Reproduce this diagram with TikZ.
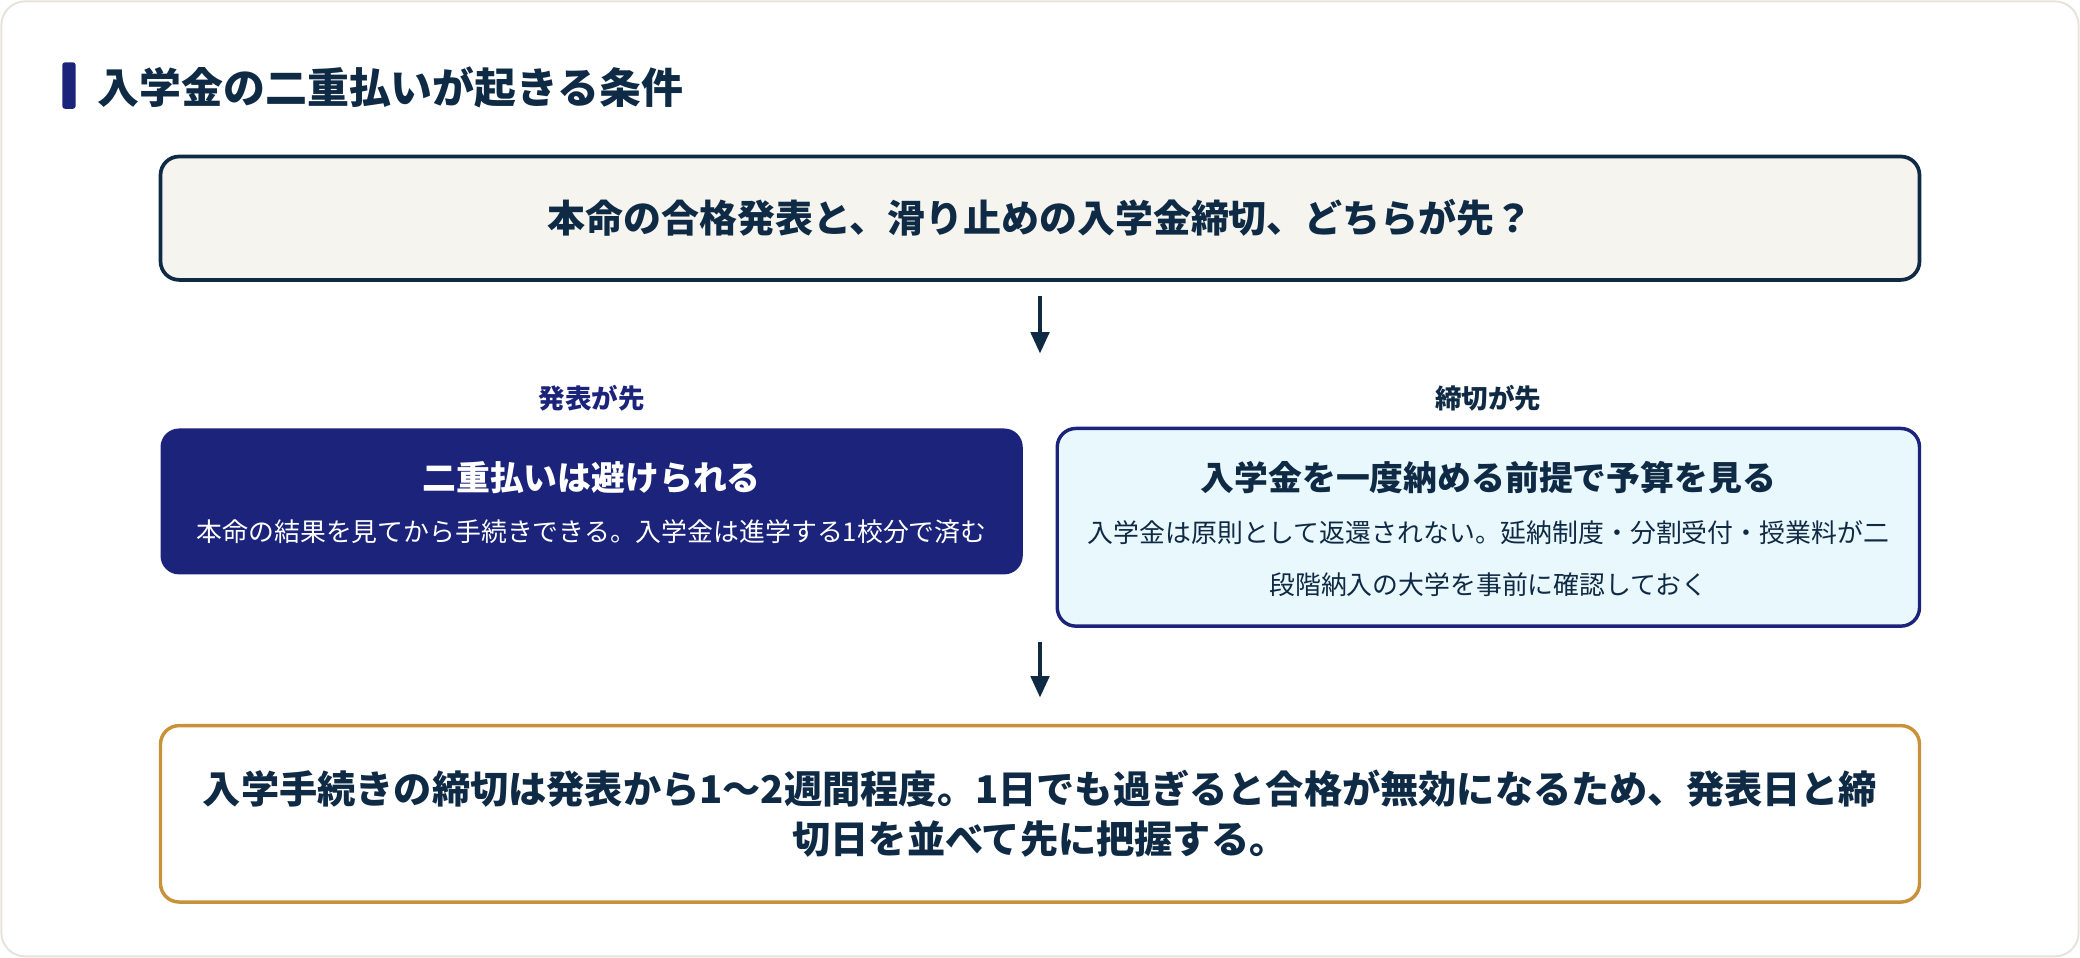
\documentclass[tikz,border=0pt]{standalone}
\usepackage{fontspec}
\setmainfont{Noto Sans CJK JP}
\usetikzlibrary{arrows.meta}
\definecolor{navy}{HTML}{1B237B}
\definecolor{ink}{HTML}{0F2A44}
\definecolor{paper}{HTML}{F5F4EF}
\definecolor{ice}{HTML}{E9F8FD}
\definecolor{gold}{HTML}{C8923A}
\definecolor{framegray}{HTML}{E6E4DA}
\tikzset{
  card/.style={rounded corners=14pt, align=center, inner sep=0pt},
  qbox/.style={card, draw=ink, line width=2.8pt, fill=paper, text=ink,
    minimum width=1326pt, minimum height=93pt, font=\fontsize{28.6}{34}\selectfont\bfseries},
  earlybox/.style={card, fill=navy, text=white,
    minimum width=650pt, minimum height=110pt},
  latebox/.style={card, draw=navy, line width=2.6pt, fill=ice, text=ink,
    minimum width=650pt, minimum height=149pt},
  notebox/.style={card, draw=gold, line width=2.6pt, fill=white, text=ink,
    minimum width=1326pt, minimum height=133pt, font=\fontsize{28.8}{38}\selectfont\bfseries},
  branch/.style={font=\fontsize{20}{24}\selectfont\bfseries},
  headtxt/.style={font=\fontsize{25.5}{30}\selectfont\bfseries},
  bodytxt/.style={font=\fontsize{19.5}{39}\selectfont},
  flow/.style={ink, line width=2.4pt, -{Triangle[length=16pt,width=14pt]}}
}
\begin{document}
\begin{tikzpicture}[x=1pt,y=-1pt]
\useasboundingbox (0,0) rectangle (1568,722);
\draw[framegray, line width=1.5pt, rounded corners=18pt] (1,1) rectangle (1567,721);
% heading
\fill[navy, rounded corners=2pt] (47,47) rectangle (57,82);
\node[anchor=west, text=ink, font=\fontsize{31.6}{36}\selectfont\bfseries] (title) at (70,66) {入学金の二重払いが起きる条件};
% question
\node[qbox] (question) at (784,164.5) {本命の合格発表と、滑り止めの入学金締切、どちらが先？};
\draw[flow] ([yshift=-11pt]question.south) -- ([yshift=-54pt]question.south);
% two branches
\node[branch, text=navy] (earlylbl) at (446,300) {発表が先};
\node[branch, text=ink] (latelbl) at (1122,300) {締切が先};
\node[earlybox] (early) at (446,378) {};
\node[headtxt, text=white] (earlyhead) at (446,360) {二重払いは避けられる};
\node[bodytxt, text=white] (earlybody) at (446,401) {本命の結果を見てから手続きできる。入学金は進学する1校分で済む};
\node[latebox] (late) at (1122,397.5) {};
\node[headtxt, text=ink] (latehead) at (1122,360) {入学金を一度納める前提で予算を見る};
\node[bodytxt, text=ink, align=center, anchor=north] (latebody) at (1122,389) {入学金は原則として返還されない。延納制度・分割受付・授業料が二\\段階納入の大学を事前に確認しておく};
% note
\node[notebox] (note) at (784,613.5) {入学手続きの締切は発表から1〜2週間程度。1日でも過ぎると合格が無効になるため、発表日と締\\切日を並べて先に把握する。};
\draw[flow] ([yshift=62pt]note.north) -- ([yshift=20pt]note.north);
\end{tikzpicture}
\end{document}
